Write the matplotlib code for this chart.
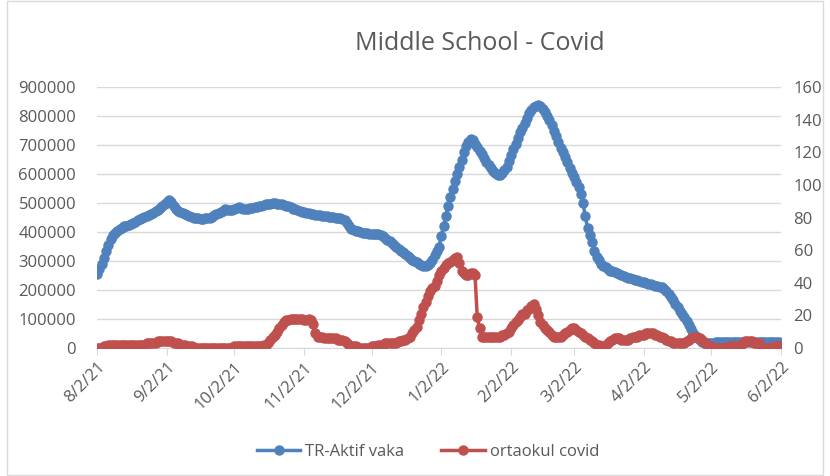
import matplotlib
matplotlib.use("Agg")
import matplotlib.pyplot as plt
import matplotlib.dates as mdates
from matplotlib.patches import Rectangle
import pandas as pd

# daily data, 2 Aug 2021 .. 1 Jun 2022
start_date = "2021-08-02"

# TR-Aktif vaka, in thousands
aktif_vaka_k = [
    255, 272, 290, 312, 335, 355, 375, 388, 398, 405,
    412, 415, 419, 422, 425, 429, 432, 436, 440, 444,
    448, 451, 455, 459, 463, 467, 472, 477, 483, 490,
    497, 505, 510, 503, 488, 478, 473, 469, 465, 462,
    458, 455, 452, 450, 448, 447, 446, 446, 447, 447,
    448, 452, 457, 461, 465, 470, 474, 478, 477, 476,
    475, 479, 482, 485, 482, 480, 478, 480, 483, 484,
    486, 487, 488, 490, 492, 495, 497, 498, 500, 499,
    498, 497, 495, 493, 490, 488, 485, 481, 478, 475,
    472, 470, 468, 466, 464, 462, 461, 460, 458, 457,
    456, 455, 454, 453, 452, 451, 450, 450, 447, 444,
    440, 432, 422, 412, 408, 405, 402, 399, 397, 396,
    395, 394, 393, 392, 393, 392, 390, 386, 380, 374,
    368, 362, 355, 349, 342, 336, 330, 323, 317, 310,
    305, 300, 295, 290, 286, 283, 282, 285, 292, 303,
    320, 335, 350, 385, 420, 455, 490, 520, 550, 575,
    600, 625, 650, 675, 695, 712, 722, 718, 705, 692,
    680, 668, 655, 643, 631, 620, 610, 602, 595, 598,
    605, 615, 625, 645, 665, 685, 705, 725, 745, 760,
    775, 793, 810, 820, 830, 835, 838, 833, 825, 813,
    800, 785, 770, 750, 730, 710, 690, 675, 660, 640,
    620, 604, 588, 572, 555, 530, 500, 455, 415, 388,
    365, 336, 315, 302, 291, 284, 278, 272, 267, 264,
    261, 258, 255, 252, 249, 246, 243, 240, 237, 235,
    233, 231, 228, 226, 224, 222, 220, 218, 215, 213,
    211, 209, 203, 195, 186, 175, 164, 152, 140, 129,
    117, 106, 93, 80, 66, 52, 42, 33, 26, 20,
    18, 18, 18, 18, 18, 19, 19, 19, 19, 19,
    19, 19, 20, 20, 20, 20, 20, 20, 20, 20,
    20, 20, 20, 20, 20, 20, 20, 20, 19, 19,
    19, 19, 19, 19,
]

ortaokul_covid = [
    0, 0, 0, 1, 1, 2, 2, 2, 2, 2,
    2, 2, 2, 2, 2, 2, 2, 2, 2, 2,
    2, 2, 3, 3, 3, 3, 3, 4, 4, 4,
    4, 4, 4, 4, 3, 3, 3, 2, 2, 2,
    1, 1, 1, 0, 0, 0, 0, 0, 0, 0,
    0, 0, 0, 0, 0, 0, 0, 0, 0, 0,
    0, 1, 1, 1, 1, 1, 1, 1, 1, 1,
    1, 1, 1, 1, 2, 2, 3, 5, 7, 8,
    10, 12, 14, 16, 17, 17, 18, 18, 18, 18,
    18, 18, 17, 17, 18, 17, 15, 9, 7, 7,
    7, 6, 6, 6, 6, 6, 6, 5, 5, 5,
    4, 3, 2, 1, 1, 1, 0, 0, 0, 0,
    0, 0, 1, 1, 1, 2, 2, 2, 3, 3,
    3, 3, 3, 3, 4, 4, 5, 5, 6, 7,
    9, 11, 13, 17, 21, 25, 28, 32, 35, 37,
    38, 41, 45, 47, 49, 51, 52, 53, 54, 55,
    56, 52, 47, 46, 45, 45, 46, 46, 45, 19,
    12, 7, 7, 7, 7, 7, 7, 7, 7, 7,
    8, 8, 9, 10, 12, 14, 16, 17, 19, 21,
    21, 23, 24, 26, 27, 24, 20, 16, 14, 12,
    11, 10, 8, 7, 7, 7, 7, 8, 9, 10,
    11, 12, 12, 11, 10, 9, 8, 7, 6, 5,
    4, 3, 2, 2, 1, 1, 2, 3, 4, 5,
    6, 6, 6, 5, 5, 5, 5, 6, 7, 7,
    7, 8, 8, 8, 9, 9, 9, 9, 8, 8,
    7, 7, 6, 5, 4, 4, 3, 3, 3, 3,
    3, 3, 4, 5, 6, 7, 7, 6, 6, 5,
    3, 2, 1, 1, 0, 0, 0, 0, 0, 0,
    0, 1, 1, 1, 1, 1, 2, 3, 4, 4,
    4, 4, 3, 3, 3, 1, 0, 0, 0, 0,
    0, 1, 1, 1,
]

x_tick_dates = ["2021-08-02", "2021-09-02", "2021-10-02", "2021-11-02", "2021-12-02",
                "2022-01-02", "2022-02-02", "2022-03-02", "2022-04-02", "2022-05-02",
                "2022-06-02"]
left_ticks = list(range(0, 900001, 100000))
right_ticks = list(range(0, 161, 20))

BLUE = "#4F81BD"
RED = "#C0504D"
TEXT = "#595959"
GRID = "#D9D9D9"

plt.rcParams.update({"font.family": ["Open Sans", "DejaVu Sans"]})

dates = pd.date_range(start_date, periods=len(aktif_vaka_k), freq="D")
aktif_vaka = [v * 1000 for v in aktif_vaka_k]

fig = plt.figure(figsize=(8.3, 4.76), dpi=100)
ax = fig.add_axes([97 / 830, 1 - 348 / 476, (781 - 97) / 830, (348 - 87) / 476])
ax2 = ax.twinx()

l1, = ax.plot(dates, aktif_vaka, color=BLUE, lw=2.5, marker="o", ms=6.5,
              mec=BLUE, mfc=BLUE, label="TR-Aktif vaka")
l2, = ax2.plot(dates, ortaokul_covid, color=RED, lw=2.5, marker="o", ms=6.5,
               mec=RED, mfc=RED, label="ortaokul covid")

ax.set_ylim(0, 900000)
ax2.set_ylim(0, 160)
ax.set_yticks(left_ticks)
ax2.set_yticks(right_ticks)
ax.set_xlim(pd.Timestamp("2021-08-02"), pd.Timestamp("2022-06-02"))

ax.grid(True, axis="y", color=GRID, lw=1)
ax.set_axisbelow(True)

ax.set_xticks(pd.to_datetime(x_tick_dates))
ax.xaxis.set_major_formatter(mdates.DateFormatter("%-m/%-d/%y"))

for a in (ax, ax2):
    for s in a.spines.values():
        s.set_visible(False)
ax.spines["bottom"].set_visible(True)
ax.spines["bottom"].set_color(GRID)

ax.tick_params(axis="y", length=0, pad=15, labelsize=12, labelcolor=TEXT)
ax2.tick_params(axis="y", length=0, pad=9, labelsize=12, labelcolor=TEXT)
ax.tick_params(axis="x", length=5, color=GRID, pad=3, labelsize=12, labelcolor=TEXT)
for lab in ax.get_xticklabels():
    lab.set_rotation(45)
    lab.set_ha("right")
    lab.set_rotation_mode("anchor")

fig.text(480 / 830, 1 - 44 / 476, "Middle School - Covid", ha="center", va="center",
         fontsize=18, color=TEXT)

fig.legend(handles=[l1, l2], loc="center", bbox_to_anchor=(428 / 830, 1 - 452 / 476),
           ncol=2, frameon=False, fontsize=12, labelcolor=TEXT, handlelength=2.6,
           columnspacing=2.2, handletextpad=0.3)

fig.patches.append(Rectangle((7 / 830, 1 / 476), 816 / 830, 474 / 476,
                             transform=fig.transFigure, fill=False, ec=GRID, lw=1))

fig.savefig("out.png", dpi=100)
